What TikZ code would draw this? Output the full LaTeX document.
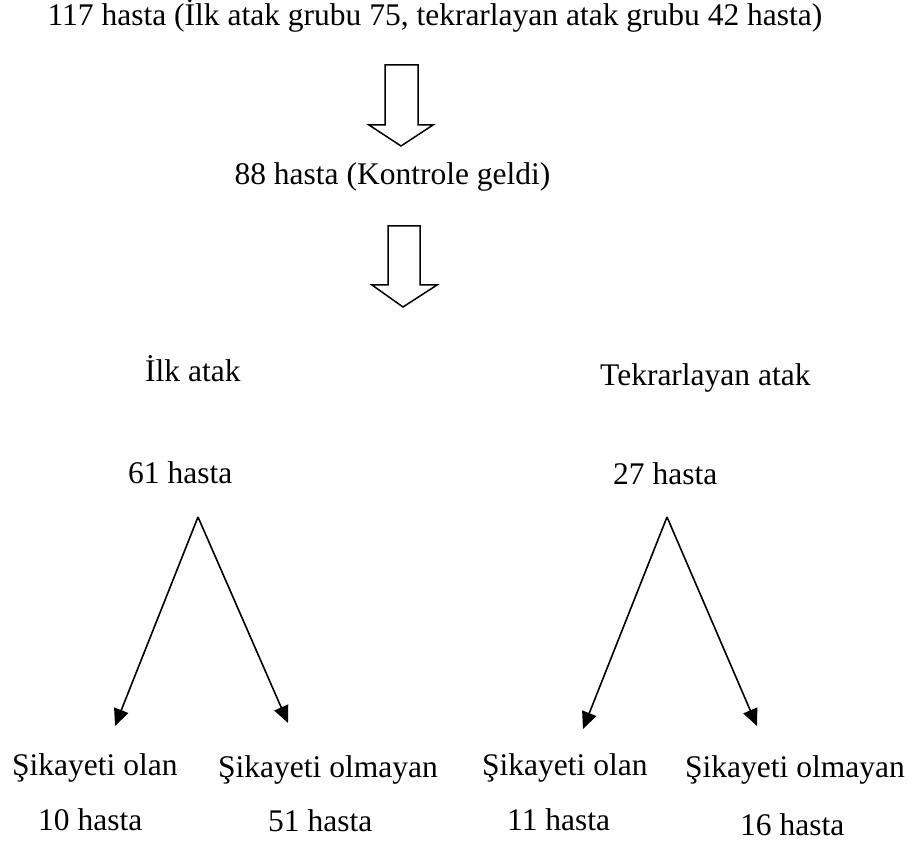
\documentclass[tikz,border=0pt]{standalone}
\usepackage{fontspec}
\setmainfont{Liberation Serif}
\usetikzlibrary{arrows.meta}
\begin{document}
\begin{tikzpicture}[x=1pt,y=-1pt,
  lbl/.style={inner sep=0pt,anchor=base west,font=\fontsize{31.5}{38}\selectfont},
  lblc/.style={inner sep=0pt,anchor=base,font=\fontsize{31.5}{38}\selectfont},
  blockarrow/.style={draw=black,line width=1.5pt,fill=white,line join=miter},
  branch/.style={draw=black,line width=1.6pt,-{Triangle[length=17pt,width=15pt]}}]
\useasboundingbox (0,0) rectangle (913,842);

% Header and flow
\node[lblc] (total) at (435,26) {117 hasta (İlk atak grubu 75, tekrarlayan atak grubu 42 hasta)};
\node[lblc] (ctrl) at (392.5,185) {88 hasta (Kontrole geldi)};

% Block arrows between the stages
\draw[blockarrow] (385,65) -- (418,65) -- (418,125) -- (433,125) -- (401,146)
  -- (369,125) -- (385,125) -- cycle;
\draw[blockarrow] (388,226) -- (420,226) -- (420,285) -- (437,285) -- (403,307)
  -- (372,285) -- (388,285) -- cycle;

% Groups
\node[lbl] (first) at (145,381) {İlk atak};
\node[lbl] (recur) at (600,385) {Tekrarlayan atak};
\node[lbl] (n61) at (128,483) {61 hasta};
\node[lbl] (n27) at (613,484) {27 hasta};

% Outcomes
\node[lbl] (fa) at (12,775) {Şikayeti olan};
\node[lbl] (fb) at (218,777) {Şikayeti olmayan};
\node[lbl] (fan) at (38,830) {10 hasta};
\node[lbl] (fbn) at (268,831) {51 hasta};
\node[lbl] (ra) at (482,775) {Şikayeti olan};
\node[lbl] (rb) at (685,777) {Şikayeti olmayan};
\node[lbl] (ran) at (507,830) {11 hasta};
\node[lbl] (rbn) at (740,835) {16 hasta};

% Branch points and arrow ends
\coordinate (lapex) at (198,517);
\coordinate (lA) at (115,726);
\coordinate (lB) at (288,723);
\coordinate (rapex) at (667,517);
\coordinate (rA) at (583,729);
\coordinate (rB) at (757,726);

\draw[branch] (lapex) -- (lA);
\draw[branch] (lapex) -- (lB);
\draw[branch] (rapex) -- (rA);
\draw[branch] (rapex) -- (rB);
\end{tikzpicture}
\end{document}
